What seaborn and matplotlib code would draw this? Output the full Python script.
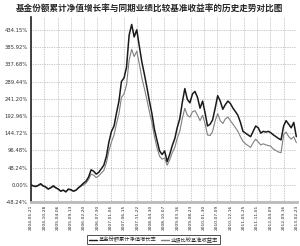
import matplotlib
matplotlib.use("Agg")
import matplotlib.pyplot as plt
import matplotlib.dates as mdates
import seaborn as sns
import pandas as pd
import numpy as np
from matplotlib.lines import Line2D

sns.set_theme(style="white")
plt.rcParams['font.family'] = ['Noto Sans CJK SC', 'DejaVu Sans']

title = "基金份额累计净值增长率与同期业绩比较基准收益率的历史走势对比图"
fund_label = "基金份额累计净值增长率"
bench_label = "业绩比较基准收益率"

start_date = "2004-05-21"
# monthly observations (mid-month) from 2004-06 to 2013-02, in %
fund = [0,
    -3, -5, -2, 3, -3, -6, -12,
    -8, -3, -8, -12, -18, -15, -20, -12, -14, -18, -15, -8,
    -2, 5, 10, 22, 42, 38, 30, 35, 45, 55, 80, 120,
    150, 165, 200, 235, 290, 300, 330, 420, 450, 415, 435, 390,
    345, 310, 275, 235, 200, 155, 125, 95, 85, 95, 65, 85,
    110, 130, 160, 185, 230, 270, 240, 230, 255, 262, 245, 215,
    235, 200, 165, 170, 182, 215, 250, 235, 212, 225, 235, 228,
    215, 205, 195, 175, 150, 145, 140, 135, 150, 165, 160, 145,
    150, 148, 150, 146, 140, 135, 130, 126, 165, 180, 170, 160,
    175, 135]
bench = [0,
    -2, -4, -3, 1, -4, -7, -12,
    -9, -5, -9, -13, -17, -15, -19, -13, -15, -18, -15, -9,
    -4, 0, 5, 15, 30, 27, 20, 25, 33, 40, 62, 95,
    120, 140, 170, 200, 245, 255, 280, 350, 380, 360, 375, 340,
    300, 270, 240, 205, 175, 135, 105, 80, 72, 75, 55, 70,
    90, 105, 130, 150, 185, 215, 195, 190, 205, 208, 195, 180,
    195, 170, 140, 138, 150, 180, 200, 180, 172, 185, 190, 180,
    170, 160, 150, 135, 122, 115, 110, 105, 118, 128, 120, 112,
    115, 112, 110, 108, 100, 96, 92, 90, 140, 148, 135, 128,
    135, 118]

x_ticks = ["2004-05-21", "2004-10-28", "2005-04-06", "2005-09-13", "2006-02-20",
           "2006-07-30", "2007-01-06", "2007-06-15", "2007-11-22", "2008-04-30",
           "2008-10-07", "2009-03-16", "2009-08-23", "2010-01-30", "2010-07-09",
           "2010-12-16", "2011-05-25", "2011-11-01", "2012-04-09", "2012-09-16",
           "2013-02-23"]
y_ticks = [-48.24, 0.00, 48.24, 96.48, 144.72, 192.96, 241.20, 289.44, 337.68, 385.92, 434.15]

dates = [pd.Timestamp(start_date)] + list(pd.date_range("2004-06-01", periods=len(fund) - 1, freq="MS") + pd.Timedelta(days=14))
df = pd.DataFrame({"date": dates * 2,
                   "value": fund + bench,
                   "series": [fund_label] * len(fund) + [bench_label] * len(bench)})

fig = plt.figure(figsize=(3.0, 2.46), dpi=100)
ax = fig.add_axes([0.103, 0.179, 0.887, 0.752])

sns.lineplot(data=df, x="date", y="value", hue="series", ax=ax,
             palette={fund_label: "#1a1a1a", bench_label: "#808080"},
             hue_order=[bench_label, fund_label], legend=False,
             linewidth=0.9)
for ln, lw in zip(ax.get_lines(), [0.8, 1.1]):
    ln.set_linewidth(lw)

xt = pd.to_datetime(x_ticks)
ax.set_xlim(xt[0], xt[-1])
ax.set_xticks(xt)
ax.set_xticklabels(x_ticks, rotation=90, fontsize=3.2, family="DejaVu Sans")
ax.set_ylim(-48.24, 471)
ax.set_yticks(y_ticks)
ax.set_yticklabels([f"{v:.2f}%" for v in y_ticks], fontsize=3.8, family="DejaVu Sans", color="#333333")
ax.tick_params(axis="both", length=0, pad=2)
ax.set_xlabel("")
ax.set_ylabel("")
ax.grid(True, linestyle=(0, (1, 1.5)), color="#999999", linewidth=0.5)

for s in ["top", "right"]:
    ax.spines[s].set_visible(False)
ax.spines["left"].set_color("#222222")
ax.spines["left"].set_linewidth(1.2)
ax.spines["bottom"].set_color("#bbbbbb")
ax.spines["bottom"].set_linewidth(2.0)

fig.text(0.5, 0.965, title, ha="center", va="center", fontsize=6.2, fontweight="bold")

handles = [Line2D([], [], color="#1a1a1a", lw=1.0), Line2D([], [], color="#808080", lw=1.0)]
leg = fig.legend(handles, [fund_label, bench_label], loc="center", bbox_to_anchor=(0.512, 0.025),
                 ncol=2, fontsize=3.8, frameon=True, fancybox=False, handlelength=1.6,
                 handletextpad=0.3, columnspacing=0.8, borderpad=0.3, borderaxespad=0)
leg.get_frame().set_edgecolor("black")
leg.get_frame().set_linewidth(0.6)

fig.savefig("out.png", dpi=100)
